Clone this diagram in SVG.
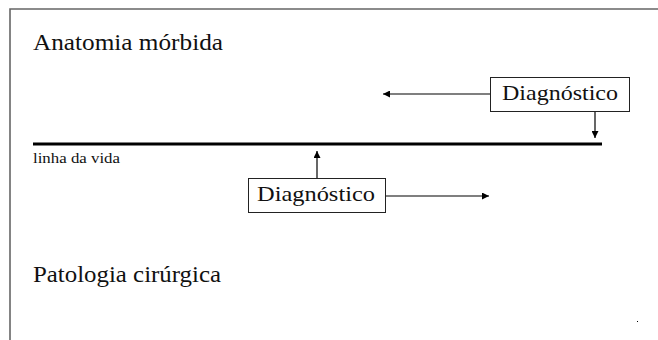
<svg xmlns="http://www.w3.org/2000/svg" width="658" height="340" viewBox="0 0 658 340">
<style>
.t{font-family:"Liberation Serif","Times New Roman",serif;fill:#111}
.box{fill:#fff;stroke:#222;stroke-width:1}
.c{stroke:#000;stroke-width:1.2;fill:none}
</style>
<defs>
<marker id="ah" viewBox="0 0 10 10" refX="10" refY="5" markerWidth="8" markerHeight="7" markerUnits="userSpaceOnUse" orient="auto">
<path d="M0,0 L10,5 L0,10 Z" fill="#000"/>
</marker>
</defs>
<rect width="658" height="340" fill="#fff"/>
<g id="frame">
<path d="M10,340 V9 H658" fill="none" stroke="#666" stroke-width="1.6"/>
</g>
<g id="labels">
<text class="t" x="33" y="50" font-size="23" textLength="190" lengthAdjust="spacingAndGlyphs">Anatomia mórbida</text>
<text class="t" x="33" y="282" font-size="23" textLength="188" lengthAdjust="spacingAndGlyphs">Patologia cirúrgica</text>
<text class="t" x="33" y="163" font-size="15" textLength="87" lengthAdjust="spacingAndGlyphs">linha da vida</text>
</g>
<g id="lifeline">
<line x1="33" y1="144" x2="602" y2="144" stroke="#000" stroke-width="3"/>
</g>
<g id="connectors">
<line class="c" x1="490" y1="94" x2="383" y2="94" marker-end="url(#ah)"/>
<line class="c" x1="595" y1="112" x2="595" y2="138" marker-end="url(#ah)"/>
<line class="c" x1="317" y1="178" x2="317" y2="151" marker-end="url(#ah)"/>
<line class="c" x1="385" y1="196" x2="489" y2="196" marker-end="url(#ah)"/>
</g>
<g id="diag-top">
<rect class="box" x="490.5" y="77.5" width="139" height="34"/>
<text class="t" x="502" y="100" font-size="22" textLength="116" lengthAdjust="spacingAndGlyphs">Diagnóstico</text>
</g>
<g id="diag-bottom">
<rect class="box" x="248.5" y="178.5" width="137" height="34"/>
<text class="t" x="257" y="201" font-size="22" textLength="118" lengthAdjust="spacingAndGlyphs">Diagnóstico</text>
</g>
<rect x="637" y="321" width="1" height="1" fill="#000"/>
</svg>
